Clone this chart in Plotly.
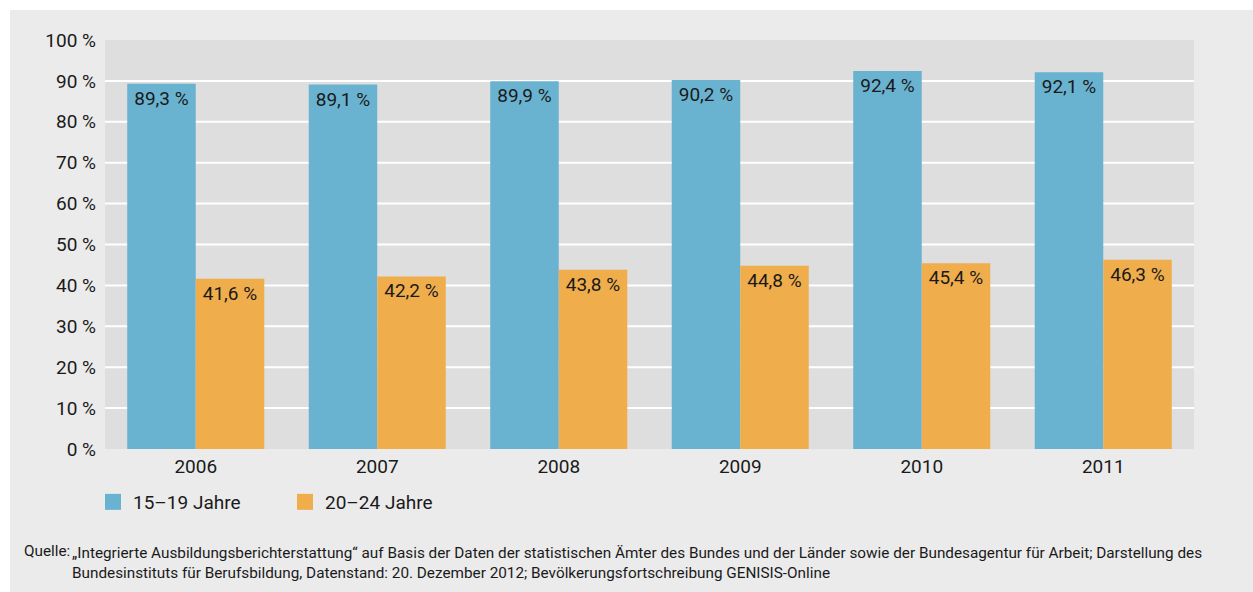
import plotly.graph_objects as go

years = ["2006", "2007", "2008", "2009", "2010", "2011"]
age_15_19 = [89.3, 89.1, 89.9, 90.2, 92.4, 92.1]
age_20_24 = [41.6, 42.2, 43.8, 44.8, 45.4, 46.3]
series_names = ["15–19 Jahre", "20–24 Jahre"]
y_ticks = [0, 10, 20, 30, 40, 50, 60, 70, 80, 90, 100]
y_tick_labels = ["0 %", "10 %", "20 %", "30 %", "40 %", "50 %", "60 %", "70 %", "80 %", "90 %", "100 %"]
grid_lines = [10, 20, 30, 40, 50, 60, 70, 80, 90]

BLUE = "#6ab3d0"
ORANGE = "#f0ad4c"
FONT = "Roboto, sans-serif"
TXT = "#1a1a1a"

W, H = 1253, 592
L, R, T, B = 105, 59, 40, 143


def de(v):
    return f"{v:.1f}".replace(".", ",") + " %"


fig = go.Figure()
for vals, color, name in [(age_15_19, BLUE, series_names[0]), (age_20_24, ORANGE, series_names[1])]:
    fig.add_trace(go.Bar(
        x=years, y=vals, name=name, marker=dict(color=color, line=dict(width=0)),
        text=[de(v) for v in vals], textposition="inside", insidetextanchor="end",
        textangle=0, constraintext="none",
        insidetextfont=dict(family=FONT, size=19, color=TXT),
        showlegend=False, hoverinfo="skip",
    ))
    # square legend swatches
    fig.add_trace(go.Scatter(
        x=[None], y=[None], mode="markers", name=name,
        marker=dict(symbol="square", size=16, color=color),
    ))

shapes = []
for g in grid_lines:
    shapes.append(dict(type="line", xref="paper", yref="y", x0=0, x1=1, y0=g, y1=g,
                       line=dict(color="white", width=2), layer="below"))
# white outer margin strips on the top and left
pw, ph = W - L - R, H - T - B
shapes.append(dict(type="rect", xref="paper", yref="paper",
                   x0=-L / pw, x1=(W - L) / pw, y0=1 + (T - 10) / ph, y1=1 + T / ph,
                   fillcolor="white", line=dict(width=0), layer="below"))
shapes.append(dict(type="rect", xref="paper", yref="paper",
                   x0=-L / pw, x1=(10 - L) / pw, y0=-B / ph, y1=1 + T / ph,
                   fillcolor="white", line=dict(width=0), layer="below"))

source_body = ("„Integrierte Ausbildungsberichterstattung“ auf Basis der Daten der statistischen Ämter des Bundes "
               "und der Länder sowie der Bundesagentur für Arbeit; Darstellung des<br>"
               "Bundesinstituts für Berufsbildung, Datenstand: 20. Dezember 2012; Bevölkerungsfortschreibung GENISIS-Online")

annotations = [
    dict(text="Quelle:", xref="paper", yref="paper", x=(22 - L) / pw, y=-(551 - T - ph) / ph,
         xanchor="left", yanchor="middle", showarrow=False, align="left",
         font=dict(family=FONT, size=15.3, color=TXT)),
    dict(text=source_body, xref="paper", yref="paper", x=(70 - L) / pw, y=-(562.5 - T - ph) / ph,
         xanchor="left", yanchor="middle", showarrow=False, align="left",
         font=dict(family=FONT, size=15.3, color=TXT)),
]

fig.update_layout(
    width=W, height=H,
    margin=dict(l=L, r=R, t=T, b=B),
    paper_bgcolor="#ebebeb", plot_bgcolor="#dedede",
    barmode="group", bargap=0.245, bargroupgap=0,
    font=dict(family=FONT, size=19, color=TXT),
    shapes=shapes, annotations=annotations,
    legend=dict(orientation="h", x=-12 / pw, xanchor="left", y=-(502 - T - ph) / ph, yanchor="middle",
                font=dict(family=FONT, size=19, color=TXT), bgcolor="rgba(0,0,0,0)",
                entrywidth=147, entrywidthmode="pixels", itemclick=False),
    xaxis=dict(type="category", showgrid=False, zeroline=False, showline=False, ticks="",
               tickfont=dict(family=FONT, size=19, color=TXT), ticklabelstandoff=4),
    yaxis=dict(range=[0, 100], tickvals=y_ticks, ticktext=y_tick_labels, showgrid=False, zeroline=False,
               showline=False, ticks="", ticklabelstandoff=8,
               tickfont=dict(family=FONT, size=19, color=TXT)),
)

fig.write_html("out.html")
